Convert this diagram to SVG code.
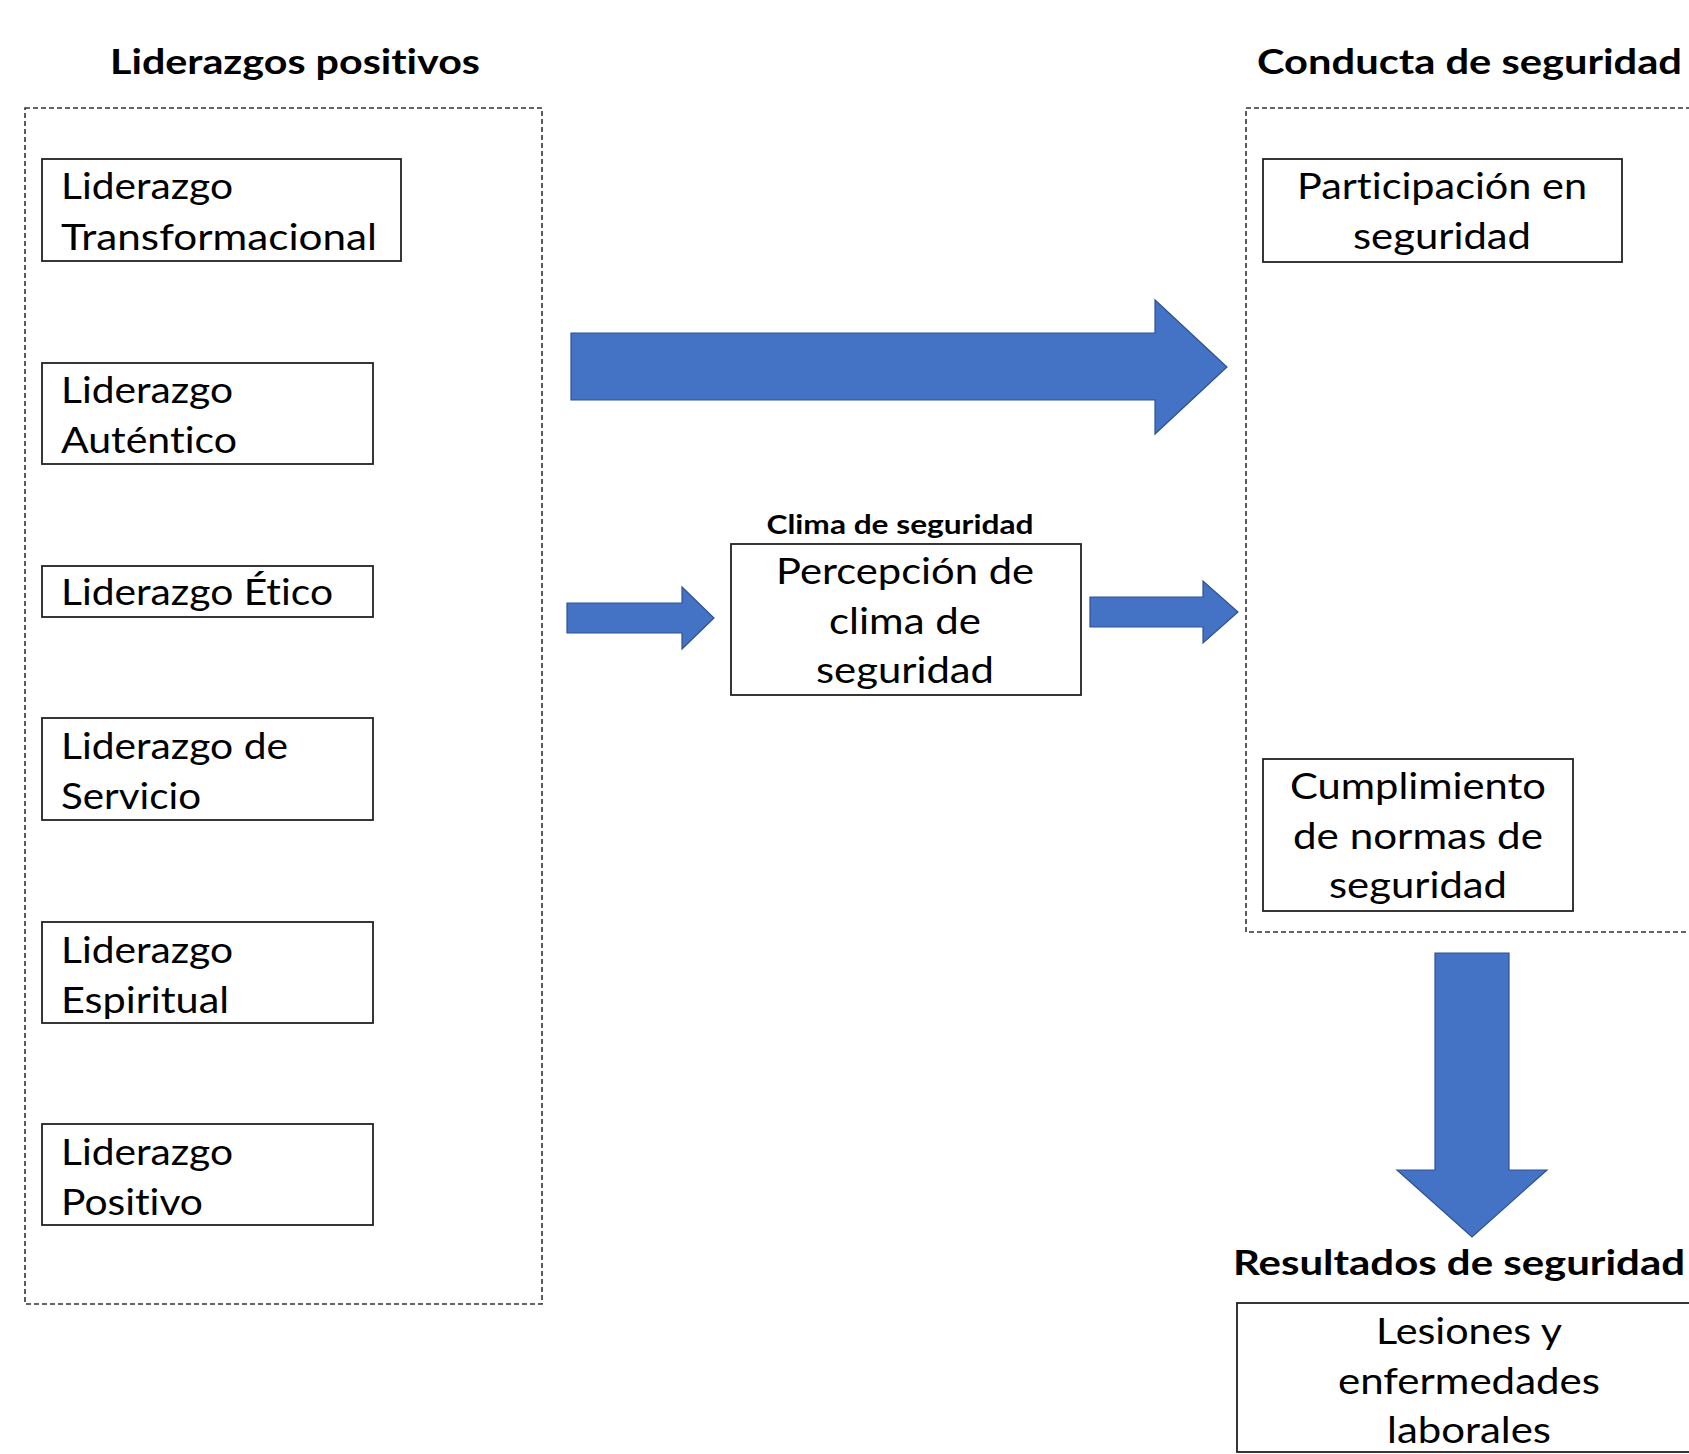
<svg xmlns="http://www.w3.org/2000/svg" width="1689" height="1454" viewBox="0 0 1689 1454">
  <style>
    .bg { fill: #ffffff; }
    .group { fill: none; stroke: #333333; stroke-width: 1.6; stroke-dasharray: 5 3; }
    .box { fill: #ffffff; stroke: #222222; stroke-width: 1.8; }
    text { font-variant-ligatures: none; font-feature-settings: "liga" 0, "clig" 0; }
    .t { font-family: Lato, "Open Sans", "Liberation Sans", sans-serif; font-size: 36px; fill: #000000; }
    .c { text-anchor: middle; }
    .title { font-family: Lato, "Open Sans", "Liberation Sans", sans-serif; font-size: 35px; font-weight: bold; fill: #000000; }
    .sub { font-family: Lato, "Open Sans", "Liberation Sans", sans-serif; font-size: 26px; font-weight: bold; fill: #000000; }
    .arrow { fill: #4472C4; stroke: #2F528F; stroke-width: 1.2; stroke-linejoin: miter; }
  </style>
  <rect class="bg" x="0" y="0" width="1689" height="1454"/>

  <g id="group-liderazgos">
    <text class="title" x="110" y="74" textLength="370" lengthAdjust="spacingAndGlyphs">Liderazgos positivos</text>
    <rect class="group" x="25" y="108" width="517" height="1196"/>
  </g>

  <g id="group-conducta">
    <text class="title" x="1257" y="74" textLength="425" lengthAdjust="spacingAndGlyphs">Conducta de seguridad</text>
    <rect class="group" x="1246" y="108" width="460" height="824"/>
  </g>

  <g id="node-transformacional">
    <rect class="box" x="42" y="159" width="359" height="102"/>
    <text class="t" x="61" y="199" textLength="172" lengthAdjust="spacingAndGlyphs">Liderazgo</text>
    <text class="t" x="61" y="250" textLength="316" lengthAdjust="spacingAndGlyphs">Transformacional</text>
  </g>
  <g id="node-autentico">
    <rect class="box" x="42" y="363" width="331" height="101"/>
    <text class="t" x="61" y="403" textLength="172" lengthAdjust="spacingAndGlyphs">Liderazgo</text>
    <text class="t" x="61" y="453" textLength="176" lengthAdjust="spacingAndGlyphs">Auténtico</text>
  </g>
  <g id="node-etico">
    <rect class="box" x="42" y="566" width="331" height="51"/>
    <text class="t" x="61" y="605" textLength="272" lengthAdjust="spacingAndGlyphs">Liderazgo Ético</text>
  </g>
  <g id="node-servicio">
    <rect class="box" x="42" y="718" width="331" height="102"/>
    <text class="t" x="61" y="759" textLength="227" lengthAdjust="spacingAndGlyphs">Liderazgo de</text>
    <text class="t" x="61" y="809" textLength="140" lengthAdjust="spacingAndGlyphs">Servicio</text>
  </g>
  <g id="node-espiritual">
    <rect class="box" x="42" y="922" width="331" height="101"/>
    <text class="t" x="61" y="963" textLength="172" lengthAdjust="spacingAndGlyphs">Liderazgo</text>
    <text class="t" x="61" y="1013" textLength="168" lengthAdjust="spacingAndGlyphs">Espiritual</text>
  </g>
  <g id="node-positivo">
    <rect class="box" x="42" y="1124" width="331" height="101"/>
    <text class="t" x="61" y="1165" textLength="172" lengthAdjust="spacingAndGlyphs">Liderazgo</text>
    <text class="t" x="61" y="1215" textLength="142" lengthAdjust="spacingAndGlyphs">Positivo</text>
  </g>

  <g id="node-clima">
    <text class="sub c" x="900" y="534" textLength="267" lengthAdjust="spacingAndGlyphs">Clima de seguridad</text>
    <rect class="box" x="731" y="544" width="350" height="151"/>
    <text class="t c" x="905" y="584" textLength="258" lengthAdjust="spacingAndGlyphs">Percepción de</text>
    <text class="t c" x="905" y="634" textLength="152" lengthAdjust="spacingAndGlyphs">clima de</text>
    <text class="t c" x="905" y="683" textLength="178" lengthAdjust="spacingAndGlyphs">seguridad</text>
  </g>

  <g id="node-participacion">
    <rect class="box" x="1263" y="159" width="359" height="103"/>
    <text class="t c" x="1442" y="199" textLength="290" lengthAdjust="spacingAndGlyphs">Participación en</text>
    <text class="t c" x="1442" y="249" textLength="178" lengthAdjust="spacingAndGlyphs">seguridad</text>
  </g>
  <g id="node-cumplimiento">
    <rect class="box" x="1263" y="759" width="310" height="152"/>
    <text class="t c" x="1418" y="799" textLength="256" lengthAdjust="spacingAndGlyphs">Cumplimiento</text>
    <text class="t c" x="1418" y="849" textLength="250" lengthAdjust="spacingAndGlyphs">de normas de</text>
    <text class="t c" x="1418" y="898" textLength="178" lengthAdjust="spacingAndGlyphs">seguridad</text>
  </g>

  <g id="node-resultados">
    <text class="title" x="1233" y="1275" textLength="452" lengthAdjust="spacingAndGlyphs">Resultados de seguridad</text>
    <rect class="box" x="1237" y="1303" width="470" height="149"/>
    <text class="t c" x="1469" y="1344" textLength="186" lengthAdjust="spacingAndGlyphs">Lesiones y</text>
    <text class="t c" x="1469" y="1394" textLength="262" lengthAdjust="spacingAndGlyphs">enfermedades</text>
    <text class="t c" x="1469" y="1443" textLength="164" lengthAdjust="spacingAndGlyphs">laborales</text>
  </g>

  <g id="connectors">
    <polygon class="arrow" points="571,333 1155,333 1155,300 1227,367 1155,434 1155,400 571,400"/>
    <polygon class="arrow" points="567,603 682,603 682,587 714,618 682,649 682,633 567,633"/>
    <polygon class="arrow" points="1090,597 1203,597 1203,581 1238,612 1203,643 1203,627 1090,627"/>
    <polygon class="arrow" points="1435,953 1509,953 1509,1170 1547,1170 1472,1237 1397,1170 1435,1170"/>
  </g>
</svg>
